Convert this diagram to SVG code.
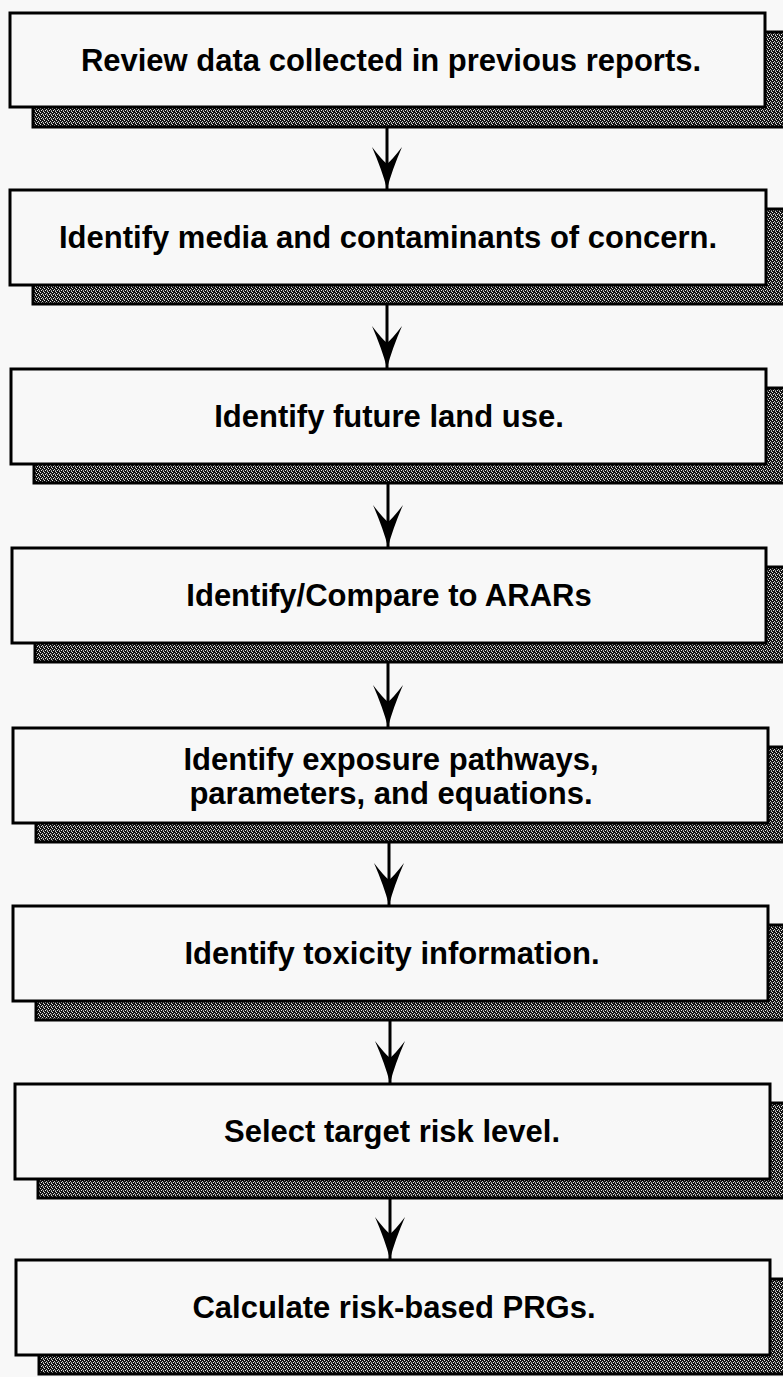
<svg xmlns="http://www.w3.org/2000/svg" width="783" height="1377" viewBox="0 0 783 1377">
<style>
.box{fill:#f8f8f8;stroke:#000;stroke-width:3}
.shadow{fill:url(#stipple);stroke:#000;stroke-width:3}
.lbl{font-family:"Liberation Sans",Arial,Helvetica,sans-serif;font-weight:bold;font-size:31px;fill:#000;text-anchor:middle}
.conn{stroke:#000;stroke-width:3;fill:none}
</style>
<defs>
<pattern id="stipple" width="4" height="4" patternUnits="userSpaceOnUse">
<rect width="4" height="4" fill="#141414"/>
<rect x="0" y="0" width="1" height="1" fill="#e8e8e8"/>
<rect x="2" y="1" width="1" height="1" fill="#d0d0d0"/>
<rect x="1" y="2" width="1" height="1" fill="#e8e8e8"/>
<rect x="3" y="3" width="1" height="1" fill="#d0d0d0"/>
<rect x="3" y="2" width="1" height="1" fill="#8a8a8a"/>
</pattern>
<marker id="head" markerWidth="42" markerHeight="30" viewBox="0 0 42 30" refX="42" refY="15" orient="auto" markerUnits="userSpaceOnUse">
<path d="M42,15 Q23,10 0,0 Q13,10 17,15 Q13,20 0,30 Q23,20 42,15 Z" fill="#000"/>
</marker>
</defs>
<rect width="783" height="1377" fill="#f8f8f8"/>

<g id="n1">
<rect class="shadow" x="33" y="32" width="760" height="95"/>
<rect class="box" x="10" y="13" width="755" height="94"/>
<text class="lbl" x="391" y="71">Review data collected in previous reports.</text>
</g>
<g id="n2">
<rect class="shadow" x="33" y="209" width="760" height="95"/>
<rect class="box" x="10" y="190" width="756" height="95"/>
<text class="lbl" x="388" y="248">Identify media and contaminants of concern.</text>
</g>
<g id="n3">
<rect class="shadow" x="34" y="388" width="760" height="95"/>
<rect class="box" x="11" y="369" width="755" height="95"/>
<text class="lbl" x="389" y="427">Identify future land use.</text>
</g>
<g id="n4">
<rect class="shadow" x="35" y="567" width="760" height="95"/>
<rect class="box" x="12" y="548" width="754" height="95"/>
<text class="lbl" x="389" y="606">Identify/Compare to ARARs</text>
</g>
<g id="n5">
<rect class="shadow" x="36" y="747" width="760" height="95"/>
<rect class="box" x="13" y="728" width="755" height="95"/>
<text class="lbl" x="391" y="770">Identify exposure pathways,</text>
<text class="lbl" x="391" y="804">parameters, and equations.</text>
</g>
<g id="n6">
<rect class="shadow" x="36" y="925" width="760" height="95"/>
<rect class="box" x="13" y="906" width="755" height="95"/>
<text class="lbl" x="392" y="964">Identify toxicity information.</text>
</g>
<g id="n7">
<rect class="shadow" x="38" y="1103" width="760" height="95"/>
<rect class="box" x="15" y="1084" width="755" height="95"/>
<text class="lbl" x="392" y="1142">Select target risk level.</text>
</g>
<g id="n8">
<rect class="shadow" x="39" y="1279" width="760" height="95"/>
<rect class="box" x="16" y="1260" width="754" height="95"/>
<text class="lbl" x="394" y="1318">Calculate risk-based PRGs.</text>
</g>

<g id="connectors">
<line class="conn" x1="387" y1="127" x2="387" y2="189" marker-end="url(#head)"/>
<line class="conn" x1="387" y1="304" x2="387" y2="368" marker-end="url(#head)"/>
<line class="conn" x1="388" y1="483" x2="388" y2="547" marker-end="url(#head)"/>
<line class="conn" x1="388" y1="662" x2="388" y2="727" marker-end="url(#head)"/>
<line class="conn" x1="389" y1="842" x2="389" y2="905" marker-end="url(#head)"/>
<line class="conn" x1="390" y1="1020" x2="390" y2="1083" marker-end="url(#head)"/>
<line class="conn" x1="390" y1="1198" x2="390" y2="1259" marker-end="url(#head)"/>
</g>
</svg>
